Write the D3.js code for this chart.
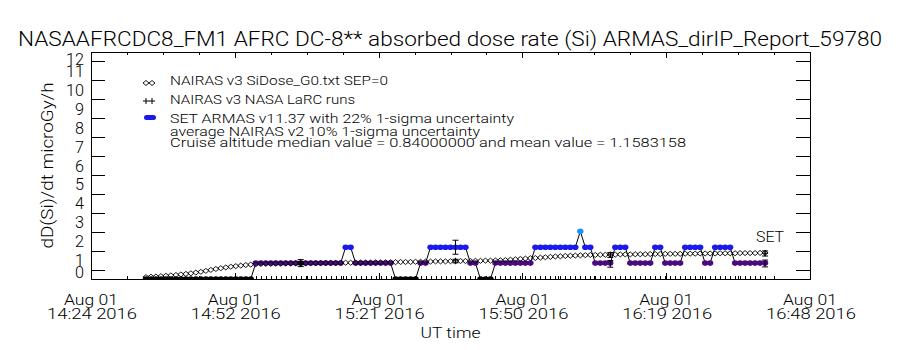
<!DOCTYPE html>
<html>
<head>
<meta charset="utf-8">
<script src="https://cdn.jsdelivr.net/npm/d3@7"></script>
<style>
body { margin: 0; background: #fff; }
text { font-family: "Roboto", "Open Sans", "Liberation Sans", sans-serif; font-weight: 300; fill: #000; }
</style>
</head>
<body>
<div id="chart-area"></div>
<script>

// ---- data ----
var titleText = "NASAAFRCDC8_FM1 AFRC DC-8** absorbed dose rate (Si) ARMAS_dirIP_Report_59780";
var yLabelText = "dD(Si)/dt microGy/h";
var xLabelText = "UT time";
var startTime = new Date(Date.UTC(2016, 7, 1, 14, 24));
var endTime = new Date(Date.UTC(2016, 7, 1, 16, 48));
var yTickValues = [0, 1, 2, 3, 4, 5, 6, 7, 8, 9, 10, 11, 12];

// ARMAS dose rate, one record per minute starting 14:35 UT
var armasStartMin = 11;
var armasDose = [
    0, 0, 0, 0, 0, 0, 0, 0, 0, 0, 0, 0, 0, 0, 0, 0, 0, 0, 0, 0, 0, 0,
    0.84, 0.84, 0.84, 0.84, 0.84, 0.84, 0.84, 0.84, 0.84, 0.84, 0.84, 0.84, 0.84, 0.84, 0.84, 0.84, 0.84, 0.84,
    1.68, 1.68,
    0.84, 0.84, 0.84, 0.84, 0.84, 0.84, 0.84, 0.84,
    0, 0, 0, 0, 0,
    0.84, 0.84,
    1.68, 1.68, 1.68, 1.68, 1.68, 1.68, 1.68, 1.68,
    0.84, 0.84,
    0, 0, 0,
    0.84, 0.84, 0.84, 0.84, 0.84, 0.84, 0.84, 0.84,
    1.68, 1.68, 1.68, 1.68, 1.68, 1.68, 1.68, 1.68, 1.68,
    2.52,
    1.68, 1.68,
    0.84, 0.84, 0.84, 0.84,
    1.68, 1.68, 1.68,
    0.84, 0.84, 0.84, 0.84, 0.84,
    1.68, 1.68,
    0.84, 0.84, 0.84, 0.84,
    1.68, 1.68, 1.68, 1.68,
    0.84, 0.84,
    1.68, 1.68, 1.68, 1.68,
    0.84, 0.84, 0.84, 0.84, 0.84, 0.84, 0.84
];

// NAIRAS v3 SiDose_G0, one value per minute starting 14:35 UT
var nairasStartMin = 11;
var nairasDose = [
    0.10, 0.12, 0.13, 0.15, 0.17, 0.19, 0.21, 0.24, 0.27, 0.30, 0.34, 0.38, 0.43, 0.48, 0.53, 0.57, 0.61, 0.65, 0.68, 0.71, 0.74, 0.76,
    0.78, 0.79, 0.80, 0.80, 0.81, 0.81, 0.82, 0.82, 0.83, 0.83, 0.83, 0.84, 0.84, 0.84, 0.85, 0.85, 0.85, 0.85,
    0.86, 0.86, 0.86, 0.87, 0.87, 0.87, 0.88, 0.88, 0.88, 0.89,
    0.89, 0.90, 0.90, 0.90, 0.91, 0.91, 0.92, 0.92, 0.93, 0.93, 0.93, 0.94, 0.94, 0.95, 0.95, 0.95, 0.96, 0.96, 0.97, 0.97,
    0.98, 0.99, 1.00, 1.02, 1.04, 1.06, 1.08, 1.10, 1.11, 1.13, 1.15, 1.17, 1.19, 1.20, 1.22, 1.23, 1.24, 1.25, 1.26, 1.27,
    1.27, 1.28, 1.28, 1.29, 1.29, 1.30, 1.30, 1.30, 1.31, 1.31, 1.31, 1.32, 1.32, 1.32, 1.33, 1.33, 1.33, 1.33, 1.34, 1.34,
    1.34, 1.35, 1.35, 1.35, 1.35, 1.36, 1.36, 1.36, 1.36, 1.37, 1.37, 1.37, 1.37, 1.38, 1.38
];

// segment averages (minutes after 14:24 UT)
var avgMin = [42, 73, 104, 135];
var armasAvg = [0.84, 1.68, 0.80, 0.82];
var armasErrFrac = 0.22;
var nairasV2Avg = [0.84, 0.95, 1.27, 1.35];
var nairasV2ErrFrac = 0.10;
var larcDose = [0.84, 0.96, 1.28, 1.36];

var legendLabels = [
    "NAIRAS v3 SiDose_G0.txt SEP=0",
    "NAIRAS v3 NASA LaRC runs",
    "SET ARMAS v11.37 with 22% 1-sigma uncertainty",
    "average NAIRAS v2 10% 1-sigma uncertainty",
    "Cruise altitude median value = 0.84000000 and mean value = 1.1583158"
];

// ---- layout ----
var margin = { left: 91, right: 90, top: 52, bottom: 71 };
var width = 900 - margin.left - margin.right,
    height = 350 - margin.top - margin.bottom;

var svg = d3.select("#chart-area")
    .append("svg")
        .attr("width", 900)
        .attr("height", 350);

var g = svg.append("g")
    .attr("transform", "translate(" + margin.left + ", " + margin.top + ")");

svg.append("defs").append("clipPath")
    .attr("id", "plot-clip")
    .append("rect")
        .attr("x", 0).attr("y", 0)
        .attr("width", width).attr("height", height);

// X Scale
var x = d3.scaleUtc()
    .domain([startTime, endTime])
    .range([0, width]);

// Y Scale
var y = d3.scaleLinear()
    .domain([0, 12])
    .range([height, 0]);

var minuteTime = function(m){ return new Date(startTime.getTime() + m * 60000); };

var majorTicks = d3.range(0, 6).map(function(i){ return minuteTime(i * 28.8); });
var minorTicks = d3.range(0, 21).map(function(i){ return minuteTime(i * 7.2); });
var yHalfTicks = yTickValues.slice(0, -1).map(function(v){ return v + 0.5; });

// axes: inward ticks, IDL style
function tickAxis(axis, vals, size) {
    return axis.tickValues(vals).tickSize(size).tickSizeOuter(0).tickFormat("");
}
var axes = [
    [d3.axisBottom(x), minorTicks, -3, "translate(0," + height + ")"],
    [d3.axisBottom(x), majorTicks, -6, "translate(0," + height + ")"],
    [d3.axisTop(x), minorTicks, -3, null],
    [d3.axisTop(x), majorTicks, -6, null],
    [d3.axisLeft(y), yHalfTicks, -14, null],
    [d3.axisRight(y), yHalfTicks, -14, "translate(" + width + ",0)"]
];
axes.forEach(function(a){
    var ag = g.append("g").attr("class", "axis");
    if (a[3]) ag.attr("transform", a[3]);
    ag.call(tickAxis(a[0], a[1], a[2]));
    ag.select(".domain").remove();
    ag.selectAll("line").attr("stroke", "#000").attr("shape-rendering", "crispEdges");
});

g.append("rect")
    .attr("x", 0).attr("y", 0)
    .attr("width", width).attr("height", height)
    .attr("fill", "none")
    .attr("stroke", "#000")
    .attr("shape-rendering", "crispEdges");

// Y tick labels
g.selectAll(".ylab")
    .data(yTickValues)
    .enter().append("text")
        .attr("class", "ylab")
        .attr("x", -7)
        .attr("y", function(d){
            if (d === 0) return y(d) - 1;
            if (d === 12) return y(d) + 13;
            return y(d) + 6;
        })
        .attr("text-anchor", "end")
        .attr("font-size", "17px")
        .attr("textLength", function(d){ return d < 10 ? 9 : 18; })
        .attr("lengthAdjust", "spacingAndGlyphs")
        .text(function(d){ return d; });

// X tick labels (two lines)
var fmtDay = d3.utcFormat("%b %d"),
    fmtTime = d3.utcFormat("%H:%M %Y");
var xl = g.selectAll(".xlab")
    .data(majorTicks)
    .enter().append("text")
        .attr("class", "xlab")
        .attr("text-anchor", "middle")
        .attr("font-size", "15px");
xl.append("tspan")
    .attr("x", function(d){ return x(d); })
    .attr("y", height + 26)
    .attr("textLength", 54)
    .attr("lengthAdjust", "spacingAndGlyphs")
    .text(function(d){ return fmtDay(d); });
xl.append("tspan")
    .attr("x", function(d){ return x(d) + 1; })
    .attr("y", height + 40)
    .attr("textLength", 90)
    .attr("lengthAdjust", "spacingAndGlyphs")
    .text(function(d){ return fmtTime(d); });

// Labels
svg.append("text")
    .attr("x", 450)
    .attr("y", 46)
    .attr("text-anchor", "middle")
    .attr("font-size", "20px")
    .attr("textLength", 864)
    .attr("lengthAdjust", "spacingAndGlyphs")
    .text(titleText);

svg.append("text")
    .attr("x", margin.left + width / 2)
    .attr("y", 338)
    .attr("text-anchor", "middle")
    .attr("font-size", "15px")
    .attr("textLength", 60)
    .attr("lengthAdjust", "spacingAndGlyphs")
    .text(xLabelText);

svg.append("text")
    .attr("transform", "translate(53," + (margin.top + height / 2) + ") rotate(-90)")
    .attr("text-anchor", "middle")
    .attr("font-size", "17px")
    .attr("textLength", 166)
    .attr("lengthAdjust", "spacingAndGlyphs")
    .text(yLabelText);

// ---- data layers ----
var plot = g.append("g").attr("clip-path", "url(#plot-clip)");

var armas = armasDose.map(function(v, i){ return { t: minuteTime(armasStartMin + i), v: v }; });
var nairas = nairasDose.map(function(v, i){ return { t: minuteTime(nairasStartMin + i), v: v }; });

var armasColor = d3.scaleThreshold()
    .domain([0.4, 1.2, 2.1])
    .range(["#000000", "#4b0a80", "#1a1aee", "#1e90ff"]);

// cruise record marks along the x axis
plot.selectAll(".cruise")
    .data(armas.filter(function(d){ return d.v > 0; }))
    .enter().append("line")
        .attr("x1", function(d){ return Math.round(x(d.t)) + 0.5; })
        .attr("x2", function(d){ return Math.round(x(d.t)) + 0.5; })
        .attr("y1", y(0))
        .attr("y2", y(0) - 3)
        .attr("stroke", "#000");

// ARMAS connecting line
plot.append("path")
    .datum(armas)
    .attr("fill", "none")
    .attr("stroke", "#000")
    .attr("stroke-width", 1)
    .attr("d", d3.line().x(function(d){ return x(d.t); }).y(function(d){ return y(d.v); }));

// ARMAS points
plot.selectAll(".armas")
    .data(armas)
    .enter().append("ellipse")
        .attr("cx", function(d){ return x(d.t); })
        .attr("cy", function(d){ return y(d.v); })
        .attr("rx", 3.2)
        .attr("ry", 2.8)
        .attr("fill", function(d){ return armasColor(d.v); });

// NAIRAS v3 diamonds
var diamond = "M-3,0L0,-2.5L3,0L0,2.5Z";
plot.selectAll(".nairas")
    .data(nairas)
    .enter().append("path")
        .attr("transform", function(d){ return "translate(" + x(d.t) + "," + y(d.v) + ")"; })
        .attr("d", diamond)
        .attr("fill", "none")
        .attr("stroke", "#000")
        .attr("stroke-width", 0.9);

// error bars
function errorBars(vals, frac) {
    var eg = plot.append("g");
    vals.forEach(function(v, i){
        var cx = x(minuteTime(avgMin[i])), lo = y(v * (1 - frac)), hi = y(v * (1 + frac));
        eg.append("line").attr("x1", cx).attr("x2", cx).attr("y1", lo).attr("y2", hi).attr("stroke", "#000");
        eg.append("line").attr("x1", cx - 3).attr("x2", cx + 3).attr("y1", lo).attr("y2", lo).attr("stroke", "#000");
        eg.append("line").attr("x1", cx - 3).attr("x2", cx + 3).attr("y1", hi).attr("y2", hi).attr("stroke", "#000");
    });
}
errorBars(armasAvg, armasErrFrac);
errorBars(nairasV2Avg, nairasV2ErrFrac);

// LaRC plus marks
var plus = "M-3,0H3M0,-3V3";
plot.selectAll(".larc")
    .data(larcDose)
    .enter().append("path")
        .attr("transform", function(d, i){ return "translate(" + x(minuteTime(avgMin[i])) + "," + y(d) + ")"; })
        .attr("d", plus)
        .attr("stroke", "#000");

// SET tag
g.append("text")
    .attr("x", x(minuteTime(135)) + 5)
    .attr("y", y(1.68) - 5)
    .attr("text-anchor", "middle")
    .attr("font-size", "14px")
    .attr("textLength", 28)
    .attr("lengthAdjust", "spacingAndGlyphs")
    .text("SET");

// ---- legend ----
var legendY = [80, 99, 118, 131, 142];
var legendW = [218, 185, 344, 310, 516];
var legend = svg.append("g");
legendLabels.forEach(function(s, i){
    legend.append("text")
        .attr("x", 170)
        .attr("y", legendY[i] + 5)
        .attr("font-size", "13px")
        .attr("textLength", legendW[i])
        .attr("lengthAdjust", "spacingAndGlyphs")
        .text(s);
});
[146, 152].forEach(function(lx){
    legend.append("path").attr("transform", "translate(" + lx + "," + (legendY[0] + 3) + ")")
        .attr("d", diamond).attr("fill", "none").attr("stroke", "#000").attr("stroke-width", 0.9);
    legend.append("path").attr("transform", "translate(" + lx + "," + (legendY[1] + 2) + ")")
        .attr("d", plus).attr("stroke", "#000");
});
legend.append("rect")
    .attr("x", 144).attr("y", legendY[2] - 3)
    .attr("width", 12).attr("height", 5)
    .attr("rx", 2.5)
    .attr("fill", "#1a1aee");

</script>
</body>
</html>
